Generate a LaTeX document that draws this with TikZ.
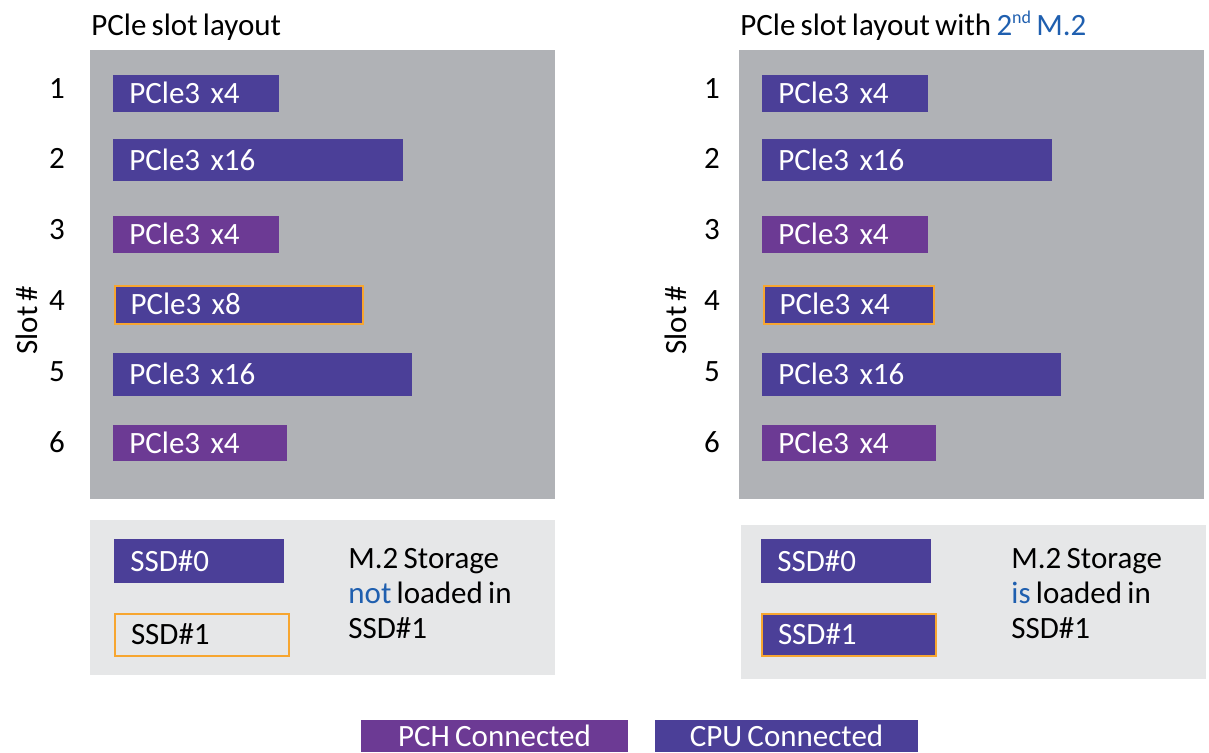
\documentclass[tikz,border=0pt]{standalone}
\usepackage{fontspec}
\setmainfont{Carlito}[WordSpace=0.75]
\usepackage{tikz}
\usetikzlibrary{positioning}
\definecolor{cpublue}{RGB}{75,63,152}
\definecolor{pchpurple}{RGB}{108,58,148}
\definecolor{slotgray}{RGB}{176,178,182}
\definecolor{m2gray}{RGB}{230,231,232}
\definecolor{ssdorange}{RGB}{247,166,48}
\definecolor{hpblue}{RGB}{31,95,175}
\tikzset{
  txt/.style={font=\fontsize{15.5}{17.5}\selectfont, inner sep=0pt},
  bar/.style={txt, anchor=west, inner xsep=8pt, text width=#1, align=left,
              text=white, text height=10pt, text depth=0pt},
  cpu/.style={fill=cpublue},
  pch/.style={fill=pchpurple},
  loaded/.style={draw=ssdorange, line width=1pt},
  slotnum/.style={txt, text height=10pt, text depth=0pt},
  legend/.style={txt, text=white, minimum height=16pt, text height=10.5pt, text depth=0pt},
}

\begin{document}
\begin{tikzpicture}[x=0.5pt, y=-0.5pt]
  \clip (0,0) rectangle (1209,752);

  % titles
  \node[txt, anchor=base west] (titleL) at (91,35) {PCle slot layout};
  \node[txt, anchor=base west] (titleR) at (740,35) {PCle slot layout with \textcolor{hpblue}{2\raisebox{0.75ex}{\fontsize{9}{9}\selectfont nd} M.2}};

  % slot panels
  \fill[slotgray] (90,50) rectangle (555,499);
  \fill[slotgray] (739,50) rectangle (1204,499);

  % left: slots
  \node[bar=67pt, cpu, minimum height=18.5pt] (l1) at (113,93.5) {PCle3 x4};
  \node[bar=129pt, cpu, minimum height=21pt] (l2) at (113,160) {PCle3 x16};
  \node[bar=67pt, pch, minimum height=18.5pt] (l3) at (113,234.5) {PCle3 x4};
  \node[bar=108pt, cpu, loaded, minimum height=19pt] (l4) at (113.5,304.5) {PCle3 x8};
  \node[bar=133.5pt, cpu, minimum height=21.5pt] (l5) at (113,374.5) {PCle3 x16};
  \node[bar=71pt, pch, minimum height=18pt] (l6) at (113,443) {PCle3 x4};

  % right: slots
  \node[bar=67pt, cpu, minimum height=18.5pt] (r1) at (762,93.5) {PCle3 x4};
  \node[bar=129pt, cpu, minimum height=21pt] (r2) at (762,160) {PCle3 x16};
  \node[bar=67pt, pch, minimum height=18.5pt] (r3) at (762,234.5) {PCle3 x4};
  \node[bar=69pt, cpu, loaded, minimum height=19pt] (r4) at (762.5,304.5) {PCle3 x4};
  \node[bar=133.5pt, cpu, minimum height=21.5pt] (r5) at (762,374.5) {PCle3 x16};
  \node[bar=71pt, pch, minimum height=18pt] (r6) at (762,443) {PCle3 x4};

  % slot numbers
  \node[slotnum] (nl1) at (57,88) {1};
  \node[slotnum] (nl2) at (57,158) {2};
  \node[slotnum] (nl3) at (57,229.5) {3};
  \node[slotnum] (nl4) at (57,300) {4};
  \node[slotnum] (nl5) at (57,371) {5};
  \node[slotnum] (nl6) at (57,442) {6};
  \node[slotnum] (nr1) at (712,88) {1};
  \node[slotnum] (nr2) at (712,158) {2};
  \node[slotnum] (nr3) at (712,229.5) {3};
  \node[slotnum] (nr4) at (712,300) {4};
  \node[slotnum] (nr5) at (712,371) {5};
  \node[slotnum] (nr6) at (712,442) {6};
  \node[txt, rotate=90] (axisL) at (27,320) {Slot \#};
  \node[txt, rotate=90] (axisR) at (676,320) {Slot \#};

  % M.2 panels
  \fill[m2gray] (90,520) rectangle (555,675);
  \fill[m2gray] (741,525) rectangle (1206,679);
  \node[bar=69pt, cpu, minimum height=22pt] (ssdL0) at (114,561) {SSD\#0};
  \node[bar=71pt, loaded, text=black, minimum height=21pt] (ssdL1) at (114,634.5) {SSD\#1};
  \node[bar=69pt, cpu, minimum height=22pt] (ssdR0) at (761,561) {SSD\#0};
  \node[bar=71pt, cpu, loaded, minimum height=21pt] (ssdR1) at (761,634.5) {SSD\#1};
  \node[txt, anchor=base west, align=left] (noteL) at (348,638)
    {M.2 Storage\\\textcolor{hpblue}{not} loaded in\\SSD\#1};
  \node[txt, anchor=base west, align=left] (noteR) at (1011,638)
    {M.2 Storage\\\textcolor{hpblue}{is} loaded in\\SSD\#1};

  % legend
  \node[legend, pch, minimum width=133.5pt] (pchkey) at (494.5,736) {PCH Connected};
  \node[legend, cpu, minimum width=131.5pt] (cpukey) at (786.5,736) {CPU Connected};
\end{tikzpicture}
\end{document}
